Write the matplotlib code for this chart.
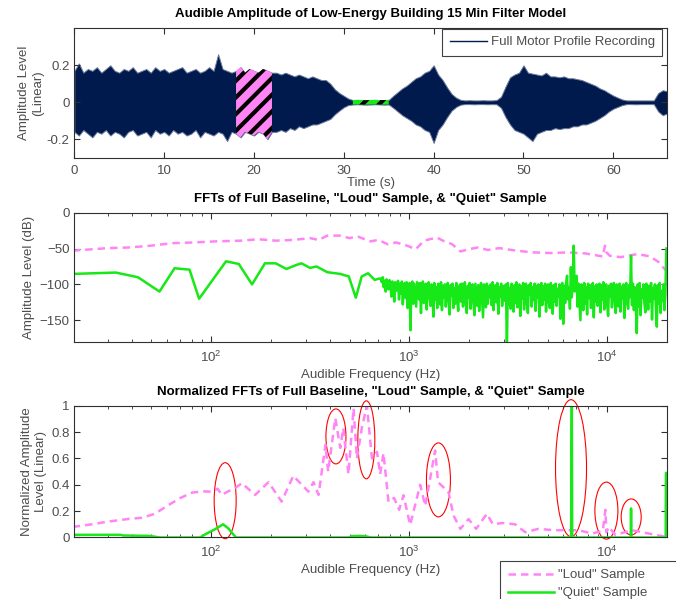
import numpy as np
import matplotlib
matplotlib.use('Agg')
import matplotlib.pyplot as plt
from matplotlib.patches import Ellipse
from matplotlib.transforms import ScaledTranslation

# ---- recording envelope (s, linear amplitude), read every 0.5 s ----
t = np.arange(0, 66.01, 0.5)
env_hi = [0.17, 0.21, 0.16, 0.18, 0.17, 0.19, 0.16, 0.18, 0.20, 0.17, 0.16, 0.18,
          0.17, 0.19, 0.16, 0.17, 0.18, 0.16, 0.19, 0.17, 0.18, 0.16, 0.17, 0.18,
          0.19, 0.16, 0.17, 0.18, 0.16, 0.17, 0.19, 0.17, 0.26, 0.18, 0.17, 0.16,
          # loud sample 18-22 s
          0.17, 0.19, 0.16, 0.18, 0.17, 0.16, 0.18, 0.17, 0.16,
          0.16, 0.15, 0.16, 0.15, 0.14, 0.15, 0.14, 0.13, 0.14, 0.13, 0.12, 0.12,
          0.10, 0.07, 0.05, 0.035, 0.02,
          # quiet sample 31-35 s
          0.012, 0.013, 0.012, 0.011, 0.012, 0.013, 0.012, 0.012, 0.013,
          0.035, 0.055, 0.075, 0.09, 0.11, 0.13, 0.14, 0.16, 0.17, 0.20, 0.15, 0.12,
          0.08, 0.045, 0.025, 0.013,
          0.010, 0.011, 0.010, 0.010, 0.011, 0.010, 0.010, 0.012,
          0.03, 0.085, 0.135, 0.15, 0.16, 0.20, 0.16, 0.155, 0.15, 0.145, 0.16, 0.14,
          0.14, 0.135, 0.14, 0.13, 0.13, 0.125, 0.12, 0.11, 0.10, 0.09, 0.075, 0.065,
          0.05, 0.036, 0.025, 0.015,
          0.010, 0.010, 0.010, 0.010, 0.010, 0.010, 0.010,
          0.05, 0.065, 0.06]
env_lo = [-0.16, -0.18, -0.15, -0.17, -0.19, -0.16, -0.17, -0.15, -0.18, -0.16, -0.17, -0.19,
          -0.16, -0.15, -0.18, -0.17, -0.16, -0.19, -0.15, -0.17, -0.16, -0.18, -0.15, -0.17,
          -0.16, -0.18, -0.17, -0.15, -0.19, -0.16, -0.17, -0.18, -0.16, -0.17, -0.21, -0.16,
          -0.17, -0.19, -0.16, -0.17, -0.18, -0.16, -0.17, -0.20, -0.16,
          -0.16, -0.15, -0.16, -0.14, -0.15, -0.13, -0.14, -0.13, -0.12, -0.12, -0.11, -0.10,
          -0.09, -0.065, -0.045, -0.027, -0.015,
          -0.012, -0.011, -0.012, -0.013, -0.012, -0.011, -0.012, -0.013, -0.012,
          -0.03, -0.05, -0.07, -0.085, -0.10, -0.12, -0.13, -0.15, -0.16, -0.22, -0.15, -0.12,
          -0.08, -0.045, -0.025, -0.013,
          -0.010, -0.010, -0.011, -0.010, -0.010, -0.011, -0.010, -0.011,
          -0.03, -0.08, -0.12, -0.15, -0.16, -0.17, -0.19, -0.21, -0.17, -0.16, -0.15, -0.15,
          -0.14, -0.145, -0.14, -0.14, -0.13, -0.13, -0.12, -0.12, -0.11, -0.10, -0.085, -0.07,
          -0.05, -0.035, -0.025, -0.015,
          -0.010, -0.010, -0.011, -0.010, -0.010, -0.010, -0.010,
          -0.05, -0.07, -0.06]
loud_span = (18, 22)
quiet_span = (31, 35)

# ---- FFT levels in dB ----
loud_db_f = [20, 30, 38.6, 49.6, 63.7, 81.9, 105, 142, 173, 212, 259, 316, 350, 386,
             449, 500, 548, 636, 700, 779, 860, 977, 1080, 1190, 1380, 1480, 1650, 1818,
             2000, 2220, 2500, 2850, 3490, 4260, 5200, 6330, 7740, 9500, 9750, 9900,
             10300, 11700, 14200, 16500, 18200, 19700, 20000]
loud_db = [-53, -49.4, -48.5, -46, -42.5, -41.5, -40, -39, -37, -39, -38, -35.5, -38, -32,
           -32, -35.5, -33, -40, -38, -44, -41.5, -46, -51, -39, -34.6, -39, -44, -54,
           -51, -48.5, -52, -49.4, -53, -55.4, -56.3, -55.4, -56.8, -61, -46, -55,
           -60, -62, -57.7, -61, -69, -80, -79]

quiet_db_f = [20, 33, 42.7, 54.9, 65.4, 77.8, 87, 119, 138, 161, 187, 212, 240, 272, 286,
              316, 341, 386, 449, 496, 538, 576, 620, 670, 703]
quiet_db_lo = [-85.4, -83.5, -90, -110, -77.5, -79.4, -120, -67.8, -71.5, -100, -70.6,
               -70.6, -78.5, -72.5, -70.6, -77, -75, -83, -85.4, -89, -118.6, -89, -84.5,
               -93.7, -92]
# noisy part above ~700 Hz
quiet_db_hi = [-92, -97, -90, -104, -95, -110, -93, -99, -107, -94,
               -98, -117, -96, -103, -124, -97, -109, -100, -95, -121,
               -99, -113, -96, -128, -101, -98, -119, -97, -133, -102,
               -98, -164, -100, -96, -127, -99, -115, -131, -97, -104,
               -121, -98, -140, -101, -96, -126, -108, -99, -135, -103,
               -97, -118, -130, -100, -112, -145, -98, -121, -104, -133,
               -99, -110, -128, -97, -136, -102, -119, -100, -131, -108,
               -98, -125, -142, -101, -116, -99, -133, -105, -127, -98,
               -121, -137, -103, -100, -124, -99, -131, -110, -97, -128,
               -140, -102, -119, -98, -134, -106, -100, -126, -143, -99,
               -115, -130, -101, -137, -104, -98, -122, -146, -100, -113,
               -132, -99, -127, -103, -118, -100, -129, -97, -136, -108,
               -101, -125, -98, -141, -104, -117, -99, -130, -111, -102,
               -123, -100, -190, -98, -128, -105, -134, -99, -116, -138,
               -101, -126, -97, -132, -109, -100, -144, -103, -120, -98,
               -135, -106, -99, -127, -140, -101, -114, -98, -131, -104,
               -122, -99, -137, -102, -118, -100, -145, -107, -98, -129,
               -103, -121, -99, -138, -105, -100, -126, -133, -98, -112,
               -141, -101, -124, -99, -130, -106, -117, -100, -148, -103,
               -98, -155, -102, -126, -99, -88, -121, -104, -134, -76,
               -118, -92, -46, -110, -96, -88, -131, -99, -124, -150,
               -100, -115, -136, -98, -127, -104, -142, -99, -119, -101,
               -133, -108, -98, -146, -103, -124, -100, -130, -112, -99,
               -139, -101, -121, -97, -135, -106, -100, -128, -144, -102,
               -117, -99, -132, -105, -98, -125, -140, -100, -113, -131,
               -99, -138, -103, -120, -100, -147, -106, -98, -127, -134,
               -101, -118, -60, -129, -99, -136, -104, -122, -168, -100,
               -131, -98, -143, -107, -119, -100, -126, -139, -99, -114,
               -135, -102, -124, -98, -149, -105, -120, -100, -132, -159,
               -101, -127, -98, -140, -109, -123, -100, -136, -112, -50]
quiet_db_hi_f = np.geomspace(720, 19900, len(quiet_db_hi))

# ---- normalized FFTs ----
loud_n_f = [20, 25, 30, 38, 45, 52, 60, 70, 80, 90, 100.7, 108, 113, 122, 132, 143, 167,
            195, 227, 260, 310, 329, 349, 378, 390, 424, 449, 465, 494, 524, 545, 577,
            612, 649, 688, 714, 742, 787, 840, 890, 937, 1012, 1137, 1206, 1353, 1400,
            1580, 1676, 1814, 1996, 2180, 2470, 2650, 2960, 3430, 3860, 4480, 5450,
            7150, 8400, 9500, 9800, 9900, 10200, 11000, 13350, 16200, 19700, 20000]
loud_n = [0.08, 0.10, 0.12, 0.14, 0.15, 0.18, 0.24, 0.30, 0.34, 0.35, 0.348, 0.37, 0.323,
          0.35, 0.374, 0.412, 0.323, 0.42, 0.272, 0.468, 0.348, 0.42, 0.323, 0.703, 0.5,
          0.906, 0.68, 0.83, 0.48, 0.98, 0.6, 0.83, 1.0, 0.6, 0.65, 0.48, 0.64, 0.27,
          0.30, 0.21, 0.32, 0.095, 0.40, 0.24, 0.66, 0.42, 0.345, 0.167, 0.065, 0.14,
          0.065, 0.18, 0.10, 0.11, 0.10, 0.04, 0.065, 0.055, 0.055, 0.03, 0.05, 0.21,
          0.04, 0.08, 0.02, 0.055, 0.03, 0.005, 0.01]

quiet_n_f = [20, 35, 36, 48, 50, 55, 88, 95, 104, 115, 122, 130, 134, 500, 510, 560, 600,
             640, 6580, 6600, 6615, 6630, 6660, 13150, 13200, 13260, 19750, 19800, 20000]
quiet_n = [0.02, 0.02, 0.015, 0.012, 0.01, 0.0, 0.0, 0.03, 0.06, 0.10, 0.07, 0.02, 0.0,
           0.0, 0.01, 0.012, 0.01, 0.0, 0.0, 0.7, 0.7, 1.0, 0.0, 0.0, 0.22, 0.0, 0.0,
           0.49, 0.49]

# highlighted peaks: centre frequency, centre level
ring_f = [117.8, 427, 608, 1406, 6569, 9910, 13220]
ring_v = [0.279, 0.767, 0.741, 0.437, 0.526, 0.204, 0.156]
ring_size = [(0.22, 0.76), (0.20, 0.55), (0.17, 0.78), (0.24, 0.74),
             (0.31, 1.37), (0.23, 0.57), (0.20, 0.36)]

NAVY = '#001a4d'
PINK = '#ff85f5'
GREEN = '#17e817'
GREY = '#4d4d4d'

plt.rcParams['font.family'] = ['Liberation Sans', 'DejaVu Sans']
plt.rcParams['font.size'] = 9.5
plt.rcParams['hatch.linewidth'] = 3.0
plt.rcParams['axes.edgecolor'] = '#303030'
plt.rcParams['axes.linewidth'] = 0.8
plt.rcParams['xtick.color'] = '#303030'
plt.rcParams['ytick.color'] = '#303030'
plt.rcParams['xtick.labelcolor'] = GREY
plt.rcParams['ytick.labelcolor'] = GREY
plt.rcParams['axes.labelcolor'] = GREY
plt.rcParams['xtick.direction'] = 'in'
plt.rcParams['ytick.direction'] = 'in'
plt.rcParams['xtick.top'] = True
plt.rcParams['ytick.right'] = True
plt.rcParams['xtick.major.size'] = 4
plt.rcParams['ytick.major.size'] = 4
plt.rcParams['xtick.minor.size'] = 2
plt.rcParams['xtick.major.pad'] = 5.5
plt.rcParams['axes.titleweight'] = 'bold'
plt.rcParams['axes.titlesize'] = 9.5


def style_legend(leg):
    leg.get_frame().set_linewidth(0.8)
    for txt in leg.get_texts():
        txt.set_color(GREY)


def run():
    fig = plt.figure(figsize=(6.76, 5.99), dpi=100)
    ax1 = fig.add_axes([0.110, 0.7367, 0.877, 0.216])
    ax2 = fig.add_axes([0.110, 0.4295, 0.877, 0.2154])
    ax3 = fig.add_axes([0.110, 0.1027, 0.877, 0.220])

    # --- time domain ---
    hi = np.array(env_hi)
    lo = np.array(env_lo)
    ax1.fill_between(t, lo, hi, color=NAVY, edgecolor='#6a7a9c', lw=0.7)
    m = (t >= loud_span[0]) & (t <= loud_span[1])
    ax1.fill_between(t[m], lo[m], hi[m], facecolor=PINK, edgecolor='black',
                     hatch='//', lw=0)
    m = (t >= quiet_span[0]) & (t <= quiet_span[1])
    ax1.fill_between(t[m], lo[m], hi[m], facecolor=GREEN, edgecolor='black',
                     hatch='//', lw=0)
    ax1.set_xlim(0, 66)
    ax1.set_ylim(-0.3, 0.4)
    ax1.set_xticks(range(0, 61, 10))
    ax1.set_yticks([-0.2, 0, 0.2])
    ax1.set_yticklabels(['-0.2', '0', '0.2'])
    ax1.set_xlabel('Time (s)', labelpad=0)
    ax1.set_ylabel('Amplitude Level\n(Linear)', labelpad=2)
    ax1.set_title('Audible Amplitude of Low-Energy Building 15 Min Filter Model', pad=8)
    h = [plt.Line2D([], [], color=NAVY, lw=1)]
    leg = ax1.legend(h, ['Full Motor Profile Recording'], loc='upper right',
                     bbox_to_anchor=(662 / 676, 1 - 29 / 599), bbox_transform=fig.transFigure,
                     fancybox=False, framealpha=1, edgecolor='#404040', handlelength=2.8,
                     handletextpad=0.3, borderpad=0.55, borderaxespad=0)
    style_legend(leg)

    # --- FFT in dB ---
    ax2.plot(loud_db_f, loud_db, color=PINK, lw=1.8, ls=(0, (3, 2)))
    ax2.plot(np.r_[quiet_db_f, quiet_db_hi_f], np.r_[quiet_db_lo, quiet_db_hi],
             color=GREEN, lw=1.8)
    ax2.set_xscale('log')
    ax2.set_xlim(20.4, 20100)
    ax2.set_ylim(-180, 0)
    ax2.set_yticks([-150, -100, -50, 0])
    ax2.set_xlabel('Audible Frequency (Hz)', labelpad=3)
    ax2.set_ylabel('Amplitude Level (dB)', labelpad=3)
    ax2.set_title('FFTs of Full Baseline, "Loud" Sample, & "Quiet" Sample', pad=8)

    # --- normalized FFT ---
    ax3.plot(loud_n_f, loud_n, color=PINK, lw=1.8, ls=(0, (3, 2)), label='"Loud" Sample')
    ax3.plot(quiet_n_f, quiet_n, color=GREEN, lw=1.8, label='"Quiet" Sample')
    ax3.set_xscale('log')
    ax3.set_xlim(20.4, 20100)
    ax3.set_ylim(0, 1)
    ax3.set_yticks([0, 0.2, 0.4, 0.6, 0.8, 1])
    ax3.set_yticklabels(['0', '0.2', '0.4', '0.6', '0.8', '1'])
    ax3.set_xlabel('Audible Frequency (Hz)', labelpad=3)
    ax3.set_ylabel('Normalized Amplitude\nLevel (Linear)', labelpad=3)
    ax3.set_title('Normalized FFTs of Full Baseline, "Loud" Sample, & "Quiet" Sample', pad=8)
    for f, v, (w, hgt) in zip(ring_f, ring_v, ring_size):
        tr = fig.dpi_scale_trans + ScaledTranslation(f, v, ax3.transData)
        ax3.add_patch(Ellipse((0, 0), w, hgt, transform=tr, fill=False,
                              edgecolor='red', lw=0.8, clip_on=False))
    leg3 = ax3.legend(loc='upper left', bbox_to_anchor=(500 / 676, 0.0, 0.4, 1 - 561 / 599),
                      bbox_transform=fig.transFigure, mode='expand', fancybox=False,
                      framealpha=1, edgecolor='#404040', handlelength=3.5,
                      handletextpad=0.3, borderpad=0.6, borderaxespad=0, labelspacing=0.45)
    style_legend(leg3)

    for ax in (ax2, ax3):
        ax.tick_params(which='minor', direction='in', top=True)

    fig.savefig('out.png', dpi=100)


if __name__ == "__main__":
    run()
